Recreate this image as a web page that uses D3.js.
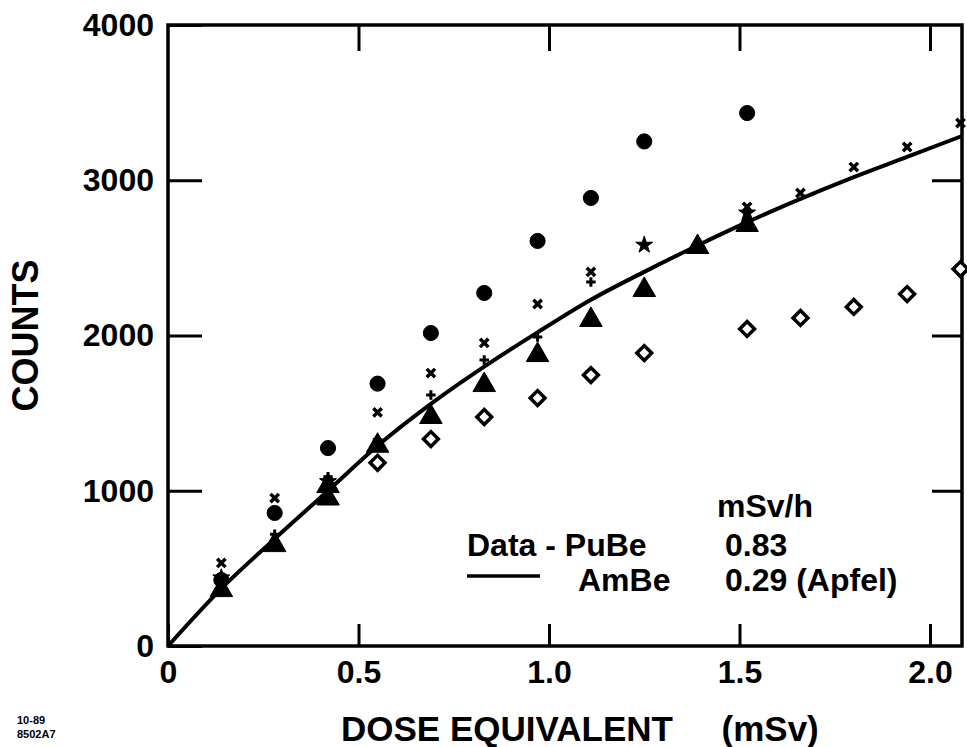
<!DOCTYPE html>
<html>
<head>
<meta charset="utf-8">
<script src="https://cdn.jsdelivr.net/npm/d3@7"></script>
<style>
  body { margin: 0; background: #fff; }
  text { font-family: "Liberation Sans", Arial, sans-serif; font-weight: bold; fill: #000; }
</style>
</head>
<body>
<script>
'use strict';

// chart values =====================================

var xTicks = [0, 0.5, 1.0, 1.5, 2.0];
var yTicks = [0, 1000, 2000, 3000, 4000];

// filled circles
var circles = [[0.14, 425], [0.28, 857], [0.42, 1275], [0.55, 1690], [0.69, 2016], [0.83, 2274],
  [0.97, 2609], [1.11, 2886], [1.25, 3250], [1.52, 3433]];
// bold x marks
var crosses = [[0.14, 535], [0.28, 953], [0.55, 1505], [0.69, 1758], [0.83, 1952], [0.97, 2203],
  [1.11, 2410], [1.52, 2828], [1.66, 2918], [1.80, 3085], [1.94, 3214], [2.08, 3369]];
// plus marks
var pluses = [[0.28, 720], [0.42, 1090], [0.55, 1330], [0.69, 1617], [0.83, 1842], [0.97, 1990], [1.11, 2345]];
// stars
var stars = [[0.14, 440], [0.42, 1060], [1.25, 2583], [1.52, 2790]];
// filled triangles
var triangles = [[0.14, 360], [0.28, 650], [0.42, 950], [0.42, 1030], [0.55, 1290], [0.69, 1475],
  [0.83, 1681], [0.97, 1874], [1.11, 2100], [1.25, 2293], [1.39, 2570], [1.52, 2712]];
// open diamonds
var diamonds = [[0.55, 1180], [0.69, 1333], [0.83, 1475], [0.97, 1597], [1.11, 1745], [1.25, 1887],
  [1.52, 2042], [1.66, 2113], [1.80, 2184], [1.94, 2267], [2.08, 2428]];
// AmBe curve (Apfel)
var ambeCurve = [[0, 0], [0.14, 370], [0.28, 690], [0.42, 1000], [0.55, 1290], [0.69, 1560], [0.83, 1800],
  [0.97, 2020], [1.11, 2230], [1.25, 2410], [1.39, 2580], [1.52, 2730], [1.66, 2880], [1.80, 3020],
  [1.94, 3150], [2.084, 3285]];

// sizing ==========================================

var width = 967, height = 747;
var plotLeft = 168, plotRight = 962, plotTop = 25, plotBottom = 646;

var svg = d3.select('body').append('svg')
  .attr('width', width)
  .attr('height', height);

var x = d3.scaleLinear().domain([0, 2.084]).range([plotLeft, plotRight]);
var y = d3.scaleLinear().domain([0, 4000]).range([plotBottom, plotTop]);

function fmtX(d) { return d === 0 ? '0' : d.toFixed(1); }

// ticks, all pointing inward
svg.append('g')
  .attr('transform', 'translate(0,' + plotBottom + ')')
  .call(d3.axisBottom(x).tickValues(xTicks).tickSize(-22).tickPadding(14).tickFormat(fmtX))
  .call(function (g) { g.select('.domain').remove(); });

svg.append('g')
  .attr('transform', 'translate(0,' + plotTop + ')')
  .call(d3.axisTop(x).tickValues(xTicks.slice(1)).tickSize(-26).tickFormat(''))
  .call(function (g) { g.select('.domain').remove(); });

svg.append('g')
  .attr('transform', 'translate(' + plotLeft + ',0)')
  .call(d3.axisLeft(y).tickValues(yTicks).tickSize(-34).tickPadding(14).tickFormat(d3.format('d')))
  .call(function (g) { g.select('.domain').remove(); });

svg.append('g')
  .attr('transform', 'translate(' + plotRight + ',0)')
  .call(d3.axisRight(y).tickValues(yTicks.slice(1, 4)).tickSize(-30).tickFormat(''))
  .call(function (g) { g.select('.domain').remove(); });

svg.selectAll('.tick line').attr('stroke', '#000').attr('stroke-width', 3);
svg.selectAll('.tick text').style('font-size', '32px');

// frame
svg.append('rect')
  .attr('x', plotLeft).attr('y', plotTop)
  .attr('width', plotRight - plotLeft).attr('height', plotBottom - plotTop)
  .attr('fill', 'none').attr('stroke', '#000').attr('stroke-width', 3.5);

// curve
svg.append('path')
  .datum(ambeCurve)
  .attr('fill', 'none')
  .attr('stroke', '#000')
  .attr('stroke-width', 4)
  .attr('d', d3.line().x(function (d) { return x(d[0]); }).y(function (d) { return y(d[1]); }).curve(d3.curveMonotoneX));

// stroked symbol types (x and +)
var timesSym = { draw: function (c, size) {
  var r = Math.sqrt(size) / 2;
  c.moveTo(-r, -r); c.lineTo(r, r); c.moveTo(r, -r); c.lineTo(-r, r);
} };
var plusSym = { draw: function (c, size) {
  var r = Math.sqrt(size) / 2;
  c.moveTo(-r, 0); c.lineTo(r, 0); c.moveTo(0, -r); c.lineTo(0, r);
} };

function drawMarks(data, type, size, filled, sw, rot) {
  svg.append('g').selectAll('path')
    .data(data)
    .enter().append('path')
    .attr('transform', function (d) {
      return 'translate(' + x(d[0]) + ',' + y(d[1]) + ')' + (rot ? ' rotate(' + rot + ')' : '');
    })
    .attr('d', d3.symbol().type(type).size(size))
    .attr('fill', filled ? '#000' : '#fff')
    .attr('stroke', '#000')
    .attr('stroke-width', sw);
}

// diamonds are squares turned 45 degrees
drawMarks(diamonds, d3.symbolSquare, 110, false, 3.5, 45);
drawMarks(triangles, d3.symbolTriangle, 220, true, 1);
drawMarks(circles, d3.symbolCircle, 180, true, 1);
drawMarks(stars, d3.symbolStar, 90, true, 1);
drawMarks(crosses, timesSym, 70, false, 3.5);
drawMarks(pluses, plusSym, 90, false, 3);

// axis titles
svg.append('text')
  .attr('transform', 'translate(38,' + ((plotTop + plotBottom) / 2) + ') rotate(-90)')
  .attr('text-anchor', 'middle')
  .style('font-size', '36px')
  .text('COUNTS');

svg.append('text')
  .attr('x', 341).attr('y', 741)
  .style('font-size', '35px')
  .attr('xml:space', 'preserve')
  .text('DOSE EQUIVALENT     (mSv)');

// legend
svg.append('text').attr('x', 717).attr('y', 517).style('font-size', '32px').text('mSv/h');
svg.append('text').attr('x', 467).attr('y', 556).style('font-size', '32px').text('Data - PuBe');
svg.append('text').attr('x', 725).attr('y', 556).style('font-size', '32px').text('0.83');
svg.append('line')
  .attr('x1', 467).attr('x2', 540).attr('y1', 576).attr('y2', 576)
  .attr('stroke', '#000').attr('stroke-width', 3.5);
svg.append('text').attr('x', 578).attr('y', 591).style('font-size', '32px').text('AmBe');
svg.append('text').attr('x', 725).attr('y', 591).style('font-size', '32px').text('0.29 (Apfel)');

// figure id, bottom left
svg.append('text').attr('x', 17).attr('y', 724).style('font-size', '11px').text('10-89');
svg.append('text').attr('x', 17).attr('y', 738).style('font-size', '11px').text('8502A7');
</script>
</body>
</html>
